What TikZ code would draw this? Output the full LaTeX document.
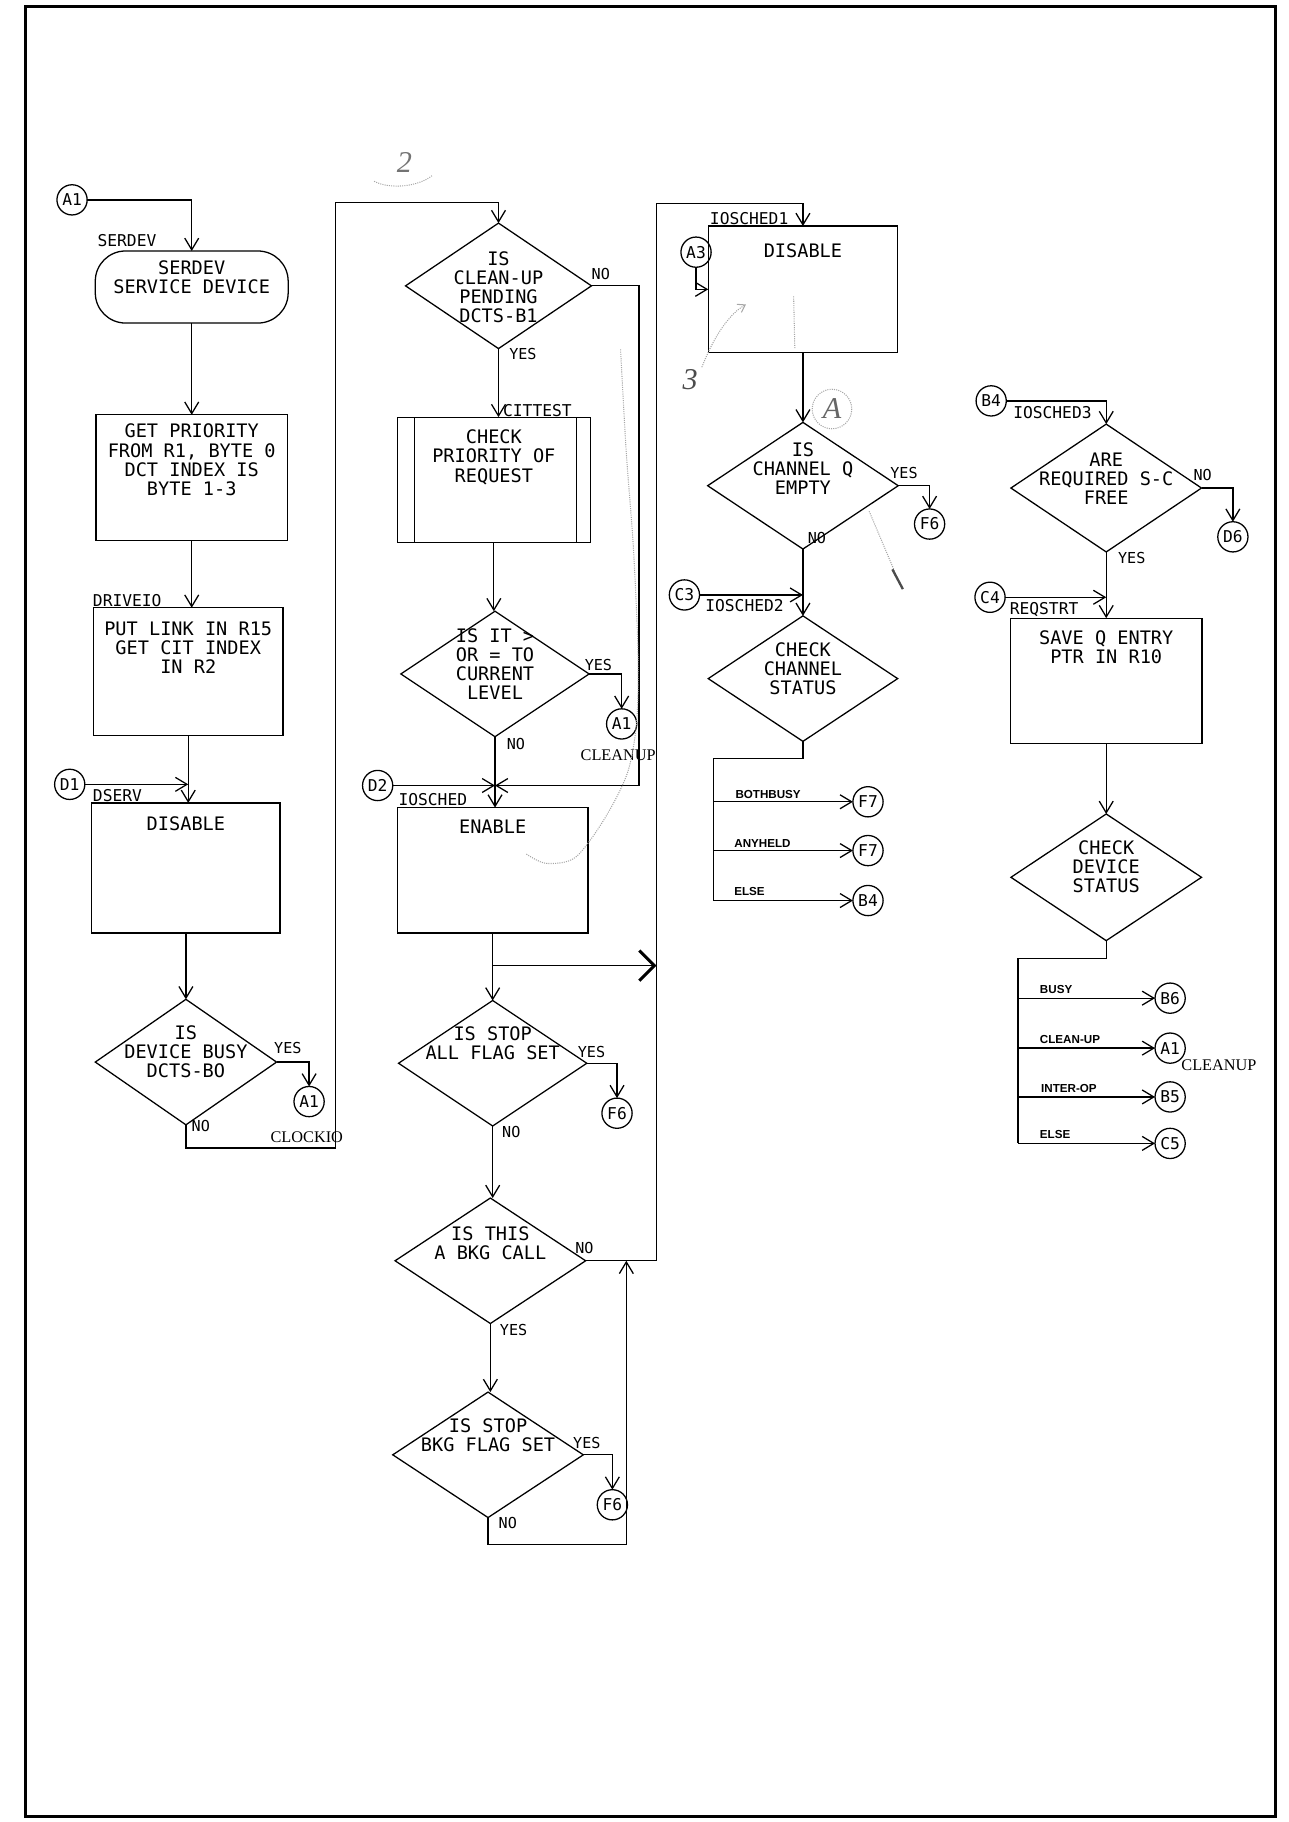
\documentclass[tikz,border=0pt]{standalone}
\usepackage{fontspec}
\setmainfont{DejaVu Sans Mono}
\newfontfamily\typed{Liberation Serif}
\newfontfamily\brfont{Liberation Sans}
\usetikzlibrary{arrows.meta,shapes.geometric}
\begin{document}
\begin{tikzpicture}[x=1pt,y=-1pt,line width=1.1pt,
  >={Straight Barb[length=10pt,width=12pt]},
  every node/.style={inner sep=0pt,outer sep=0pt},
  box/.style 2 args={draw,rectangle,minimum width=#1,minimum height=#2},
  term/.style 2 args={draw,rectangle,rounded corners=26pt,minimum width=#1,minimum height=#2},
  dia/.style 2 args={draw,diamond,minimum width=#1,minimum height=#2},
  conn/.style={draw,circle,minimum size=26pt,font=\fontsize{14}{14}\selectfont},
  intext/.style={font=\fontsize{16}{16.5}\selectfont,align=center},
  tag/.style={font=\fontsize{14}{14}\selectfont},
  yn/.style={font=\fontsize{13}{13}\selectfont},
  br/.style={font=\brfont\bfseries\fontsize{10}{10}\selectfont},
  ser/.style={font=\typed\fontsize{14}{14}\selectfont},
  big/.style={-{Straight Barb[length=13pt,width=26pt,line width=2.6pt]}},
  hand/.style={draw=black!35,line width=0.9pt,densely dotted},
  handtip/.style={-{Straight Barb[length=6pt,width=8pt]}},
  handtxt/.style={text=black!55,font=\typed\itshape\fontsize{26}{26}\selectfont},
  frame/.style={draw,line width=2.6pt}
]
\useasboundingbox (0,0) rectangle (1109,1568);
\draw[frame] (22,6) rectangle (1098,1563);

% ---------------- column 1 ----------------
\node[conn] (a1) at (62,172) {A1};
\node[tag,anchor=south west] (lserdev) at (84,212) {SERDEV};
\node[term={166pt}{62pt},label={[intext,anchor=north,yshift=-8pt]north:{SERDEV\\SERVICE DEVICE}}] (serdev) at (165,247) {};
\node[box={165pt}{108pt},label={[intext,anchor=north,yshift=-8pt]north:{GET PRIORITY\\FROM R1, BYTE 0\\DCT INDEX IS\\BYTE 1-3}}] (getpri) at (165,411) {};
\node[tag,anchor=south west] (ldrive) at (80,522) {DRIVEIO};
\node[box={163pt}{110pt},label={[intext,anchor=north,yshift=-12pt]north:{PUT LINK IN R15\\GET CIT INDEX\\IN R2}}] (drive) at (162,578) {};
\node[conn] (d1) at (60,675) {D1};
\node[tag,anchor=south west] (ldserv) at (80,690) {DSERV};
\node[box={162pt}{112pt},label={[intext,anchor=north,yshift=-12pt]north:{DISABLE}}] (dis1) at (160,747) {};
\node[dia={156pt}{108pt},label={[intext,yshift=9pt]center:{IS\\DEVICE BUSY\\DCTS-BO}}] (busy) at (160,914) {};
\node[yn,anchor=south west] (yes1) at (236,907) {YES};
\node[conn] (a1b) at (266,948) {A1};
\node[ser] (lclock) at (264,979) {CLOCKIO};
\node[yn,anchor=north west] (no1) at (165,964) {NO};
\coordinate (c1b) at (289,988);
\coordinate (c1t) at (289,174);

% ---------------- column 2 ----------------
\node[dia={160pt}{108pt},label={[intext,yshift=-1pt]center:{IS\\CLEAN-UP\\PENDING\\DCTS-B1}}] (cln) at (429,246) {};
\node[yn] (no2) at (517,236) {NO};
\node[yn] (yes2) at (450,305) {YES};
\node[tag,anchor=south west] (lcit) at (433,359) {CITTEST};
\node[box={166pt}{108pt},label={[intext,anchor=north,yshift=-11pt]north:{CHECK\\PRIORITY OF\\REQUEST}}] (chkpri) at (425,413) {};
\node[dia={162pt}{108pt},label={[intext,yshift=8.5pt]center:{IS IT >\\OR = TO\\CURRENT\\LEVEL}}] (isit) at (426,580) {};
\node[yn] (yes3) at (515,572) {YES};
\node[conn] (a1c) at (535,623) {A1};
\node[ser] (lclean1) at (532,650) {CLEANUP};
\node[yn] (no3) at (444,640) {NO};
\node[conn] (d2) at (325,676) {D2};
\node[tag,anchor=south west] (lios) at (343,693) {IOSCHED};
\node[box={164pt}{108pt},label={[intext,anchor=north,yshift=-11pt]north:{ENABLE}}] (enable) at (424,749) {};
\coordinate (j2) at (426,676);
\coordinate (r2) at (550,676);
\coordinate (j3) at (424,831);
\coordinate (vj) at (565,831);
\node[dia={162pt}{108pt},label={[intext,yshift=17pt]center:{IS STOP\\ALL FLAG SET}}] (stopall) at (424,915) {};
\node[yn] (yes4) at (509,905) {YES};
\node[conn] (f6a) at (531,958) {F6};
\node[yn] (no4) at (440,974) {NO};
\node[dia={164pt}{108pt},label={[intext,yshift=15pt]center:{IS THIS\\A BKG CALL}}] (bkg) at (422,1085) {};
\node[yn] (no5) at (503,1074) {NO};
\coordinate (vt) at (565,175);
\node[yn] (yes5) at (442,1145) {YES};
\node[dia={164pt}{108pt},label={[intext,yshift=17pt]center:{IS STOP\\BKG FLAG SET}}] (stopbkg) at (420,1252) {};
\node[yn] (yes6) at (505,1242) {YES};
\node[conn] (f6b) at (527,1295) {F6};
\node[yn] (no6) at (437,1311) {NO};
\coordinate (lb) at (539,1329);
\coordinate (lt) at (539,1085);

% ---------------- column 3 ----------------
\node[tag,anchor=south west] (lios1) at (611,193) {IOSCHED1};
\node[box={163pt}{109pt},label={[intext,anchor=north,yshift=-15pt]north:{DISABLE}}] (dis3) at (691,249) {};
\node[conn] (a3) at (599,217) {A3};
\node[dia={164pt}{109pt},label={[intext,yshift=15pt]center:{IS\\CHANNEL Q\\EMPTY}}] (chq) at (691,418) {};
\node[yn] (yes7) at (778,407) {YES};
\node[conn] (f6c) at (800,451) {F6};
\node[yn] (no7) at (703,463) {NO};
\node[conn] (c3) at (589,512) {C3};
\node[tag,anchor=north west] (lios2) at (607,516) {IOSCHED2};
\node[dia={163pt}{108pt},label={[intext,yshift=8.5pt]center:{CHECK\\CHANNEL\\STATUS}}] (chc) at (691,584) {};
\coordinate (b3a) at (614,653);
\coordinate (b3b) at (614,690);
\coordinate (b3c) at (614,732);
\coordinate (b3d) at (614,775);
\node[conn] (f7a) at (747,690) {F7};
\node[conn] (f7b) at (747,732) {F7};
\node[conn] (b4a) at (747,775) {B4};
\node[br,anchor=south west] (lboth) at (633,687) {BOTHBUSY};
\node[br,anchor=south west] (lany) at (632,729) {ANYHELD};
\node[br,anchor=south west] (lelse1) at (632,771) {ELSE};

% ---------------- column 4 ----------------
\node[conn] (b4) at (853,345) {B4};
\node[tag,anchor=north west] (lios3) at (872,350) {IOSCHED3};
\node[dia={164pt}{110pt},label={[intext,yshift=8pt]center:{ARE\\REQUIRED S-C\\FREE}}] (free) at (952,420) {};
\node[yn] (no8) at (1035,409) {NO};
\node[conn] (d6) at (1061,462) {D6};
\node[yn] (yes8) at (974,480) {YES};
\node[conn] (c4) at (852,514) {C4};
\node[tag,anchor=south west] (lreq) at (869,531) {REQSTRT};
\node[box={165pt}{108pt},label={[intext,anchor=north,yshift=-11pt]north:{SAVE Q ENTRY\\PTR IN R10}}] (save) at (952,586) {};
\node[dia={164pt}{109pt},label={[intext,yshift=9pt]center:{CHECK\\DEVICE\\STATUS}}] (chd) at (952,755) {};
\coordinate (b4x) at (876,825);
\coordinate (b4p) at (876,859);
\coordinate (b4q) at (876,902);
\coordinate (b4r) at (876,944);
\coordinate (b4s) at (876,984);
\node[conn] (b6) at (1007,859) {B6};
\node[conn] (a1d) at (1007,902) {A1};
\node[conn] (b5) at (1007,944) {B5};
\node[conn] (c5) at (1007,984) {C5};
\node[br,anchor=south west] (lbusy) at (895,855) {BUSY};
\node[br,anchor=south west] (lclup) at (895,898) {CLEAN-UP};
\node[br,anchor=south west] (linter) at (896,940) {INTER-OP};
\node[br,anchor=south west] (lelse2) at (895,980) {ELSE};
\node[ser] (lclean2) at (1049,917) {CLEANUP};

% ---------------- connectors ----------------
\draw[->] (a1.east) -| (serdev.north);
\draw[->] (serdev.south) -- (serdev.south |- getpri.north);
\draw[->] (getpri.south) -- (getpri.south |- drive.north);
\draw[->] (drive.south) -- (drive.south |- dis1.north);
\draw[->] (d1.east) -- (d1.east -| drive.south);
\draw[->] (dis1.south) -- (dis1.south |- busy.north);
\draw[->] (busy.east) -| (a1b.north);
\draw[->] (busy.south) |- (c1b) -- (c1t) -| (cln.north);

\draw[->] (cln.east) -| (r2) -- (j2);
\draw[->] (cln.south) -- (cln.south |- chkpri.north);
\draw ([xshift=15pt]chkpri.north west) -- ([xshift=15pt]chkpri.south west);
\draw ([xshift=-12pt]chkpri.north east) -- ([xshift=-12pt]chkpri.south east);
\draw[->] (chkpri.south) -- (chkpri.south |- isit.north);
\draw[->] (isit.east) -| (a1c.north);
\draw[->] (isit.south) -- (isit.south |- enable.north);
\draw[->] (d2.east) -- (j2);
\draw[->] (enable.south) -- (enable.south |- stopall.north);
\draw[big] (j3) -- (vj);
\draw[->] (stopall.east) -| (f6a.north);
\draw[->] (stopall.south) -- (stopall.south |- bkg.north);
\draw[->] (bkg.east) -| (vt) -| (dis3.north);
\draw[->] (bkg.south) -- (bkg.south |- stopbkg.north);
\draw[->] (stopbkg.east) -| (f6b.north);
\draw[->] (stopbkg.south) |- (lb) -- (lt);

\draw[->] (a3.south) |- (dis3.west);
\draw[->] (dis3.south) -- (dis3.south |- chq.north);
\draw[->] (chq.east) -| (f6c.north);
\draw[->] (chq.south) -- (chq.south |- chc.north);
\draw[->] (c3.east) -- (c3.east -| chq.south);
\draw (chc.south) |- (b3a) -- (b3d);
\draw[->] (b3b) -- (f7a.west);
\draw[->] (b3c) -- (f7b.west);
\draw[->] (b3d) -- (b4a.west);

\draw[->] (b4.east) -| (free.north);
\draw[->] (free.east) -| (d6.north);
\draw[->] (free.south) -- (free.south |- save.north);
\draw[->] (c4.east) -- (c4.east -| free.south);
\draw[->] (save.south) -- (save.south |- chd.north);
\draw (chd.south) |- (b4x) -- (b4s);
\draw[->] (b4p) -- (b6.west);
\draw[->] (b4q) -- (a1d.west);
\draw[->] (b4r) -- (b5.west);
\draw[->] (b4s) -- (c5.west);

% ---------------- faint handwritten marks ----------------
\node[handtxt] (h2) at (348,140) {2};
\draw[hand] (322,156) .. controls (335,163) and (360,161) .. (372,151);
\node[handtxt,text=black!70] (h3) at (594,327) {3};
\draw[hand,handtip] (604,316) .. controls (615,288) and (628,270) .. (642,262);
\node[handtxt,text=black!60] (h4) at (716,352) {A};
\draw[hand] (716,352) circle (17);
\draw[hand] plot[smooth] coordinates {(453,735) (470,743) (495,738) (520,705) (540,665) (548,620) (549,560) (545,470) (539,390) (534,300)};
\draw[hand] (748,440) -- (770,492);
\draw[draw=black!70,line width=2pt] (768,490) -- (777,507);
\draw[hand] (683,255) -- (684,300);
\end{tikzpicture}
\end{document}
